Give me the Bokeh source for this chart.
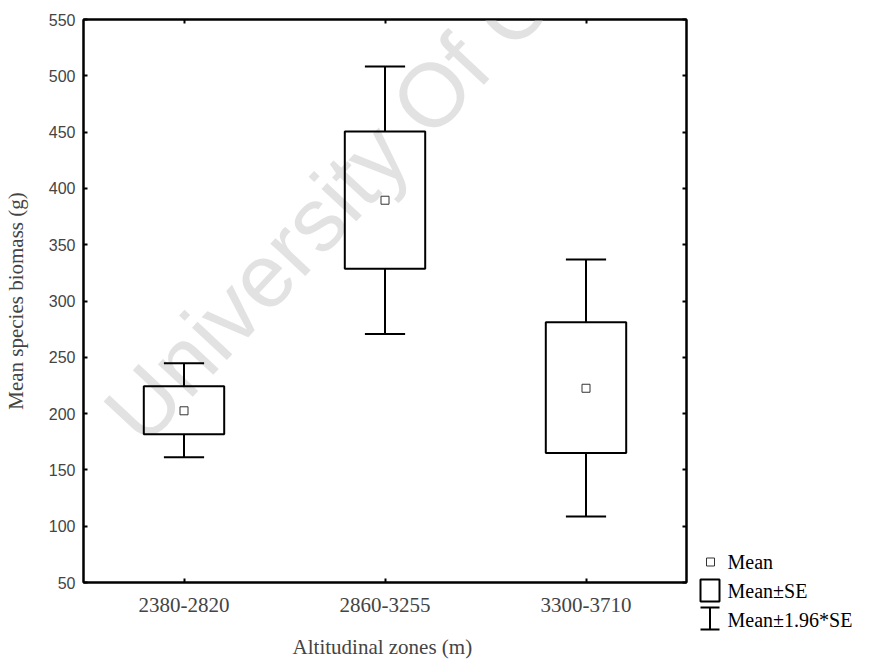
from bokeh.plotting import figure
from bokeh.layouts import row, column
from bokeh.models import LinearAxis, FixedTicker, Range1d, Label, Spacer
from bokeh.embed import file_html
from bokeh.resources import INLINE

# ---- data ----
zones = ["2380-2820", "2860-3255", "3300-3710"]
xpos = [1, 2, 3]
means = [202.5, 389.5, 222.5]
se_lo = [181.7, 328.6, 164.9]
se_hi = [224.4, 450.5, 281.2]
ci_lo = [161.3, 270.8, 108.6]
ci_hi = [244.8, 508.3, 336.9]
y_ticks = [50, 100, 150, 200, 250, 300, 350, 400, 450, 500, 550]
legend_labels = ["Mean", "Mean\u00b1SE", "Mean\u00b11.96*SE"]

SERIF = "Liberation Serif"
SANS = "Liberation Sans"
BOX_W = 0.4
CAP_W = 0.2
MAIN_W = 684
H = 661

p = figure(width=MAIN_W, height=H, frame_width=603, frame_height=563,
           x_range=Range1d(0.5, 3.5), y_range=Range1d(50, 550),
           output_backend="svg", toolbar_location=None,
           min_border_left=77, min_border_top=19, min_border_right=4,
           min_border_bottom=79)
p.grid.visible = False
p.outline_line_color = "black"
p.outline_line_width = 2
p.background_fill_color = "white"
p.border_fill_color = "white"

# watermark
p.add_layout(Label(x=38, y=155, x_units="screen", y_units="screen",
                   text="University Of Cape Town", angle=0.82,
                   text_font=SANS, text_font_size="90px", text_baseline="alphabetic",
                   text_color="#e2e2e2", level="underlay"))

# whiskers
p.segment(x0=xpos, y0=ci_lo, x1=xpos, y1=se_lo, line_color="black", line_width=2)
p.segment(x0=xpos, y0=se_hi, x1=xpos, y1=ci_hi, line_color="black", line_width=2)
cap_l = [x - CAP_W / 2 for x in xpos]
cap_r = [x + CAP_W / 2 for x in xpos]
p.segment(x0=cap_l, y0=ci_lo, x1=cap_r, y1=ci_lo, line_color="black", line_width=2)
p.segment(x0=cap_l, y0=ci_hi, x1=cap_r, y1=ci_hi, line_color="black", line_width=2)
# boxes
p.quad(left=[x - BOX_W / 2 for x in xpos], right=[x + BOX_W / 2 for x in xpos],
       bottom=se_lo, top=se_hi, fill_color=None, line_color="black", line_width=2)
# means
p.scatter(x=xpos, y=means, marker="square", size=8, fill_color="white",
          line_color="#333333", line_width=1)

# axes
ax = p.xaxis[0]
ax.ticker = FixedTicker(ticks=xpos)
ax.major_label_overrides = {x: z for x, z in zip(xpos, zones)}
ay = p.yaxis[0]
ay.ticker = FixedTicker(ticks=y_ticks)

for a in (ax, ay):
    a.axis_line_width = 2
    a.axis_line_color = "black"
    a.major_tick_in = 4
    a.major_tick_out = 0
    a.major_tick_line_width = 2
    a.minor_tick_line_color = None

ax.major_label_text_font = SERIF
ax.major_label_text_font_size = "21px"
ax.major_label_standoff = 15
ax.axis_label = "Altitudinal  zones (m)"
ax.axis_label_text_font = SERIF
ax.axis_label_text_font_size = "21px"
ax.axis_label_text_font_style = "normal"
ax.axis_label_standoff = 20

ay.major_label_text_font = SANS
ay.major_label_text_font_size = "16px"
ay.major_label_standoff = 8
ay.axis_label = "Mean species biomass (g)"
ay.axis_label_text_font = SERIF
ay.axis_label_text_font_size = "21px"
ay.axis_label_text_font_style = "normal"
ay.axis_label_standoff = 18

right = LinearAxis(ticker=FixedTicker(ticks=y_ticks), major_label_text_color=None,
                   major_label_text_font_size="1px", major_label_standoff=0,
                   axis_line_width=2, major_tick_in=4, major_tick_out=0,
                   major_tick_line_width=2, minor_tick_line_color=None)
p.add_layout(right, "right")
top = LinearAxis(ticker=FixedTicker(ticks=xpos), major_label_text_color=None,
                 major_label_text_font_size="1px", major_label_standoff=0,
                 axis_line_width=2, major_tick_in=4, major_tick_out=0,
                 major_tick_line_width=2, minor_tick_line_color=None)
p.add_layout(top, "above")

# ---- legend panel: small figure below a spacer, coordinates = page pixels ----
LG_X0, LG_Y0, LG_W, LG_H = 6 + MAIN_W, 545, 166, 110
lg = figure(width=LG_W, height=LG_H,
            x_range=Range1d(LG_X0, LG_X0 + LG_W), y_range=Range1d(LG_Y0 + LG_H, LG_Y0),
            output_backend="svg", toolbar_location=None,
            x_axis_type=None, y_axis_type=None, min_border=0)
lg.grid.visible = False
lg.outline_line_color = None
lg.scatter(x=[710], y=[561.5], marker="square", size=8, fill_color="white",
           line_color="#333333", line_width=1)
lg.quad(left=[700], right=[719], top=[579], bottom=[601], fill_color=None,
        line_color="black", line_width=2)
lg.segment(x0=[700, 700, 709.5], y0=[607, 629, 607], x1=[719, 719, 709.5], y1=[607, 629, 629],
           line_color="black", line_width=2)
for lbl, yy in zip(legend_labels, [561.5, 590, 619]):
    lg.add_layout(Label(x=727, y=yy, text=lbl, text_font=SERIF, text_font_size="20px",
                        text_baseline="middle", text_color="black"))

layout = row(p, column(Spacer(width=LG_W, height=LG_Y0), lg))
open("out.html", "w").write(file_html(layout, INLINE))
